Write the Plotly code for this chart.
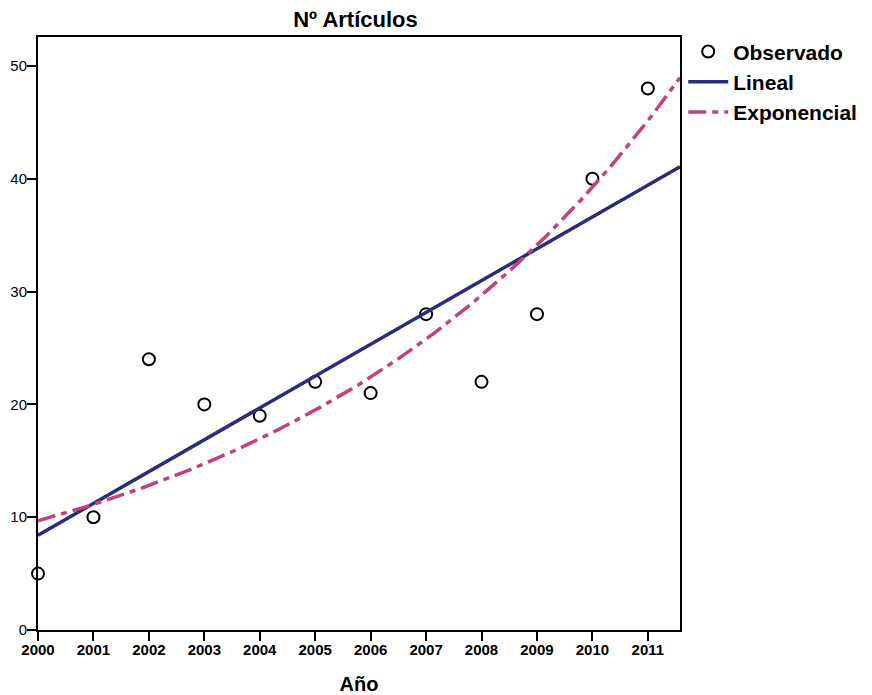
import numpy as np
import plotly.graph_objects as go

years = [2000, 2001, 2002, 2003, 2004, 2005, 2006, 2007, 2008, 2009, 2010, 2011]
articulos = [5, 10, 24, 20, 19, 22, 21, 28, 22, 28, 40, 48]
y_ticks = [0, 10, 20, 30, 40, 50]

x = np.array(years, dtype=float)
y = np.array(articulos, dtype=float)
x0 = x - 2000
lin = np.polyfit(x0, y, 1)
expo = np.polyfit(x0, np.log(y), 1)

xmax = 2011.58
xs = np.linspace(2000, xmax, 200)
lin_y = np.polyval(lin, xs - 2000)
exp_y = np.exp(np.polyval(expo, xs - 2000))

W, H = 864, 687  # page body adds an 8px margin
L, R, T, B = 30, 192, 29, 65

fig = go.Figure()
fig.add_trace(go.Scatter(x=years, y=articulos, mode="markers", name="<b>Observado</b>",
                         marker=dict(symbol="circle-open", size=12, color="black",
                                     line=dict(width=2, color="black")),
                         cliponaxis=False))
fig.add_trace(go.Scatter(x=xs, y=lin_y, mode="lines", name="<b>Lineal</b>",
                         line=dict(color="#2B2C7A", width=3.5)))
fig.add_trace(go.Scatter(x=xs, y=exp_y, mode="lines", name="<b>Exponencial</b>",
                         line=dict(color="#C1407E", width=3.5, dash="18px,6px,6px,6px")))

fig.update_layout(
    width=W, height=H,
    margin=dict(l=L, r=R, t=T, b=B, autoexpand=False),
    paper_bgcolor="white", plot_bgcolor="white",
    font=dict(family="Liberation Sans, Arial, sans-serif", color="black"),
    title=dict(text="<b>Nº Artículos</b>", x=347.5 / W, xanchor="center",
               y=1 - 11.5 / H, yanchor="middle", font=dict(size=22), automargin=False),
    showlegend=True,
    legend=dict(x=1.005, y=1.0095, xanchor="left", yanchor="top",
                font=dict(size=21, family="Liberation Sans, Arial, sans-serif"),
                tracegroupgap=0, itemwidth=40, bgcolor="rgba(0,0,0,0)"),
    xaxis=dict(range=[2000, xmax], tickmode="array", tickvals=years,
               ticktext=[f"<b>{v}</b>" for v in years], automargin=False,
               ticks="outside", ticklen=9, tickwidth=2, tickcolor="black",
               showline=True, linecolor="black", linewidth=2, mirror=True,
               showgrid=False, zeroline=False, tickfont=dict(size=15),
               ticklabelstandoff=-4,
               title=dict(text="<b>Año</b>", font=dict(size=20), standoff=20)),
    yaxis=dict(range=[0, 52.57], tickmode="array", tickvals=y_ticks, automargin=False,
               ticks="outside", ticklen=9, tickwidth=2, tickcolor="black",
               showline=True, linecolor="black", linewidth=2, mirror=True,
               showgrid=False, zeroline=False, tickfont=dict(size=15),
               ticklabelstandoff=-3),
)
fig.write_html("out.html")
